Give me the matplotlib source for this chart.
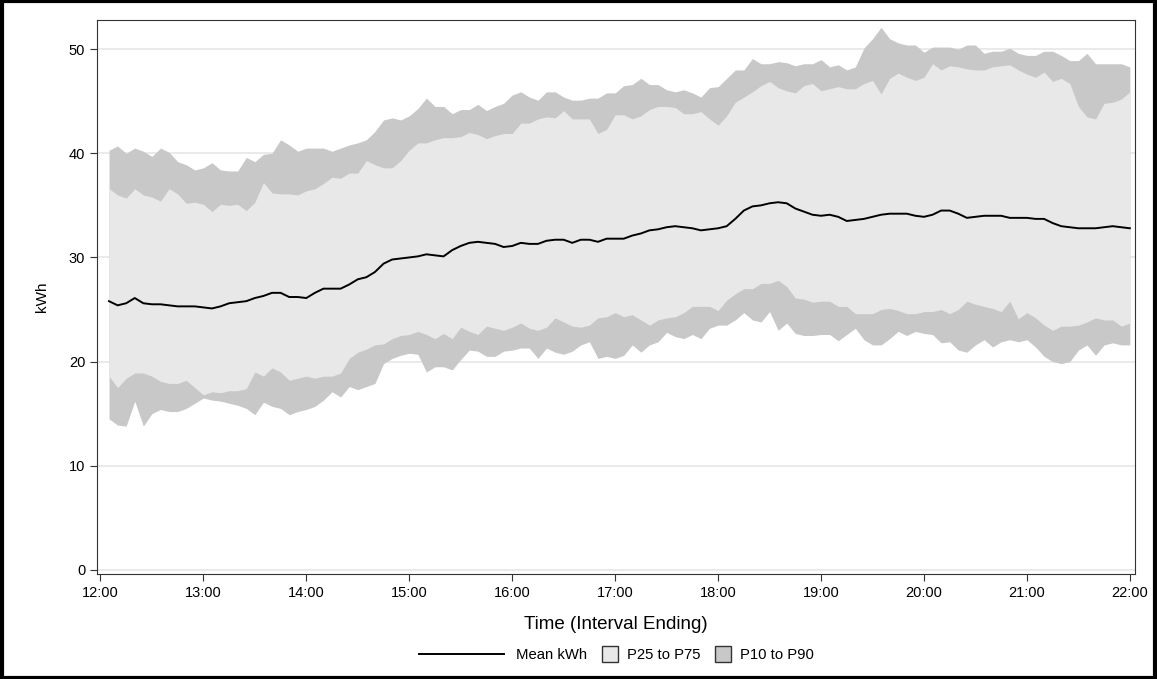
import matplotlib
matplotlib.use("Agg")
import matplotlib.pyplot as plt
import matplotlib.patches as mpatches
from matplotlib.legend_handler import HandlerPatch, HandlerLine2D
from matplotlib.lines import Line2D
import numpy as np

plt.rcParams['font.family'] = ['Liberation Sans', 'DejaVu Sans']

# 5-minute intervals, interval ending 12:05 .. 22:00 (minutes after 12:00)
minutes = np.arange(5, 605, 5)

mean_kwh = [
    25.8, 25.4, 25.6, 26.1, 25.6, 25.5, 25.5, 25.4, 25.3, 25.3,
    25.3, 25.2, 25.1, 25.3, 25.6, 25.7, 25.8, 26.1, 26.3, 26.6,
    26.6, 26.2, 26.2, 26.1, 26.6, 27.0, 27.0, 27.0, 27.4, 27.9,
    28.1, 28.6, 29.4, 29.8, 29.9, 30.0, 30.1, 30.3, 30.2, 30.1,
    30.7, 31.1, 31.4, 31.5, 31.4, 31.3, 31.0, 31.1, 31.4, 31.3,
    31.3, 31.6, 31.7, 31.7, 31.4, 31.7, 31.7, 31.5, 31.8, 31.8,
    31.8, 32.1, 32.3, 32.6, 32.7, 32.9, 33.0, 32.9, 32.8, 32.6,
    32.7, 32.8, 33.0, 33.7, 34.5, 34.9, 35.0, 35.2, 35.3, 35.2,
    34.7, 34.4, 34.1, 34.0, 34.1, 33.9, 33.5, 33.6, 33.7, 33.9,
    34.1, 34.2, 34.2, 34.2, 34.0, 33.9, 34.1, 34.5, 34.5, 34.2,
    33.8, 33.9, 34.0, 34.0, 34.0, 33.8, 33.8, 33.8, 33.7, 33.7,
    33.3, 33.0, 32.9, 32.8, 32.8, 32.8, 32.9, 33.0, 32.9, 32.8,
]

p90 = [
    40.3, 40.7, 40.0, 40.5, 40.2, 39.7, 40.5, 40.1, 39.2, 38.9,
    38.4, 38.6, 39.1, 38.4, 38.3, 38.3, 39.6, 39.2, 39.9, 40.0,
    41.3, 40.8, 40.2, 40.5, 40.5, 40.5, 40.2, 40.5, 40.8, 41.0,
    41.3, 42.1, 43.2, 43.4, 43.2, 43.6, 44.3, 45.3, 44.5, 44.5,
    43.8, 44.2, 44.2, 44.7, 44.1, 44.5, 44.8, 45.6, 45.9, 45.4,
    45.1, 45.9, 45.9, 45.4, 45.1, 45.1, 45.3, 45.3, 45.8, 45.8,
    46.5, 46.6, 47.2, 46.6, 46.6, 46.1, 45.9, 46.1, 45.8, 45.4,
    46.3, 46.4, 47.2, 48.0, 48.0, 49.1, 48.6, 48.6, 48.8, 48.7,
    48.4, 48.6, 48.6, 49.0, 48.3, 48.5, 48.0, 48.3, 50.1, 51.0,
    52.1, 51.0, 50.6, 50.4, 50.4, 49.7, 50.2, 50.2, 50.2, 50.0,
    50.4, 50.4, 49.6, 49.8, 49.8, 50.1, 49.6, 49.4, 49.4, 49.8,
    49.8, 49.4, 48.9, 48.9, 49.6, 48.6, 48.6, 48.6, 48.6, 48.3,
]

p75 = [
    36.6, 36.0, 35.7, 36.6, 36.0, 35.8, 35.4, 36.6, 36.1, 35.2,
    35.3, 35.1, 34.4, 35.1, 35.0, 35.1, 34.5, 35.3, 37.2, 36.2,
    36.1, 36.1, 36.0, 36.4, 36.6, 37.1, 37.7, 37.6, 38.1, 38.1,
    39.3, 38.9, 38.6, 38.6, 39.3, 40.3, 41.0, 41.0, 41.3, 41.5,
    41.5, 41.6, 42.0, 41.8, 41.4, 41.7, 41.9, 41.9, 42.9, 42.9,
    43.3, 43.5, 43.4, 44.1, 43.3, 43.3, 43.3, 41.9, 42.3, 43.7,
    43.7, 43.3, 43.6, 44.2, 44.5, 44.5, 44.4, 43.8, 43.8, 44.0,
    43.3, 42.7, 43.6, 44.9, 45.4, 45.9, 46.5, 46.9, 46.3, 46.0,
    45.8, 46.5, 46.7, 46.0, 46.2, 46.4, 46.2, 46.2, 46.7, 47.0,
    45.7, 47.2, 47.7, 47.3, 47.0, 47.3, 48.6, 48.0, 48.4, 48.3,
    48.1, 48.0, 48.0, 48.3, 48.4, 48.5, 48.0, 47.6, 47.3, 47.8,
    46.9, 47.2, 46.7, 44.5, 43.5, 43.3, 44.8, 44.9, 45.2, 45.9,
]

p25 = [
    18.6, 17.5, 18.4, 18.9, 18.9, 18.6, 18.1, 17.9, 17.9, 18.2,
    17.5, 16.8, 17.1, 17.0, 17.2, 17.2, 17.4, 19.0, 18.6, 19.4,
    19.0, 18.2, 18.4, 18.6, 18.4, 18.6, 18.6, 18.9, 20.3, 20.9,
    21.2, 21.6, 21.7, 22.2, 22.5, 22.6, 22.9, 22.6, 22.2, 22.7,
    22.2, 23.3, 22.9, 22.6, 23.4, 23.2, 23.0, 23.3, 23.7, 23.2,
    23.0, 23.3, 24.2, 23.8, 23.4, 23.3, 23.5, 24.2, 24.3, 24.7,
    24.3, 24.5, 24.0, 23.5, 24.0, 24.2, 24.3, 24.7, 25.3, 25.3,
    25.3, 24.9, 25.9, 26.5, 27.0, 27.0, 27.5, 27.5, 27.8, 27.2,
    26.1, 26.0, 25.7, 25.8, 25.8, 25.3, 25.3, 24.6, 24.6, 24.6,
    25.0, 25.1, 24.9, 24.6, 24.6, 24.8, 24.8, 25.0, 24.6, 25.0,
    25.8, 25.5, 25.3, 25.1, 24.8, 25.8, 24.1, 24.7, 24.2, 23.5,
    23.0, 23.4, 23.4, 23.5, 23.8, 24.2, 24.0, 24.0, 23.4, 23.7,
]

p10 = [
    14.5, 13.9, 13.8, 16.2, 13.8, 15.0, 15.4, 15.2, 15.2, 15.5,
    16.0, 16.5, 16.3, 16.2, 16.0, 15.8, 15.5, 14.9, 16.1, 15.7,
    15.5, 14.9, 15.2, 15.4, 15.7, 16.3, 17.1, 16.6, 17.6, 17.3,
    17.6, 17.9, 19.8, 20.3, 20.6, 20.8, 20.7, 19.0, 19.5, 19.5,
    19.2, 20.2, 21.1, 21.0, 20.5, 20.5, 21.0, 21.1, 21.3, 21.3,
    20.3, 21.3, 20.9, 20.7, 21.0, 21.6, 21.9, 20.3, 20.5, 20.3,
    20.6, 21.6, 20.9, 21.6, 21.9, 22.8, 22.4, 22.2, 22.6, 22.2,
    23.2, 23.5, 23.5, 24.0, 24.7, 24.0, 23.8, 24.8, 23.0, 23.7,
    22.7, 22.5, 22.5, 22.6, 22.6, 22.0, 22.6, 23.2, 22.1, 21.6,
    21.6, 22.2, 22.9, 22.5, 22.9, 22.7, 22.6, 21.8, 21.9, 21.1,
    20.9, 21.6, 22.1, 21.4, 21.9, 22.1, 21.9, 22.1, 21.4, 20.5,
    20.0, 19.8, 20.0, 21.1, 21.6, 20.6, 21.6, 21.8, 21.6, 21.6,
]

tick_minutes = np.arange(0, 660, 60)
tick_labels = ["12:00", "13:00", "14:00", "15:00", "16:00", "17:00",
               "18:00", "19:00", "20:00", "21:00", "22:00"]

light = '#E8E8E8'
dark = '#C8C8C8'


# legend boxes are small squares while the line sample is long
def square_patch(legend, orig_handle, xdescent, ydescent, width, height, fontsize):
    side = width
    return mpatches.Rectangle((-xdescent, -ydescent + (height - side) / 2), side, side)


class LongLine(HandlerLine2D):
    def create_artists(self, legend, orig_handle, xdescent, ydescent, width, height,
                       fontsize, trans):
        right = width - xdescent - 2.5
        ln = Line2D([right - 5.7 * fontsize, right], [height / 2 - ydescent] * 2,
                    color='black', linewidth=1.4)
        ln.set_transform(trans)
        return [ln]


fig = plt.figure(figsize=(11.57, 6.79), dpi=100)
ax = fig.add_axes([97 / 1157, 1 - 574 / 679, (1135 - 97) / 1157, (574 - 20) / 679])

# outer border round the whole picture
fig.patches.append(mpatches.Rectangle((0.0015, 0.002), 0.997, 0.996, transform=fig.transFigure,
                                      fill=False, edgecolor='black', linewidth=3))

ax.grid(axis='y', color='#E6E6E6', linewidth=1.2, zorder=0)
ax.fill_between(minutes, p10, p90, color=dark, linewidth=0, zorder=2)
ax.fill_between(minutes, p25, p75, color=light, linewidth=0, zorder=3)
ax.plot(minutes, mean_kwh, color='black', linewidth=1.4, zorder=4)

ax.set_xlim(-2, 603)
ax.set_ylim(-0.4, 52.8)
ax.set_xticks(tick_minutes, labels=tick_labels)
ax.set_yticks([0, 10, 20, 30, 40, 50])
ax.tick_params(direction='out', length=5, labelsize=10.5, color='#333333')
for side in ['left', 'right', 'top', 'bottom']:
    ax.spines[side].set_color('#333333')

ax.set_xlabel('Time (Interval Ending)', fontsize=13.5, labelpad=12)
ax.set_ylabel('kWh', fontsize=11, labelpad=14)

line_h = Line2D([0], [0], color='black', linewidth=1.4)
box25 = mpatches.Patch(facecolor=light, edgecolor='#333333', linewidth=1)
box10 = mpatches.Patch(facecolor=dark, edgecolor='#333333', linewidth=1)
fig.legend([line_h, box25, box10], ['Mean kWh', 'P25 to P75', 'P10 to P90'],
           loc='center', bbox_to_anchor=(0.564, 1 - 655 / 679), ncol=3, frameon=False,
           fontsize=10.7, handlelength=1.05, handleheight=0.7,
           columnspacing=1.0, handletextpad=0.6,
           handler_map={Line2D: LongLine(),
                        mpatches.Patch: HandlerPatch(patch_func=square_patch)})

fig.savefig('out.png', dpi=100)
